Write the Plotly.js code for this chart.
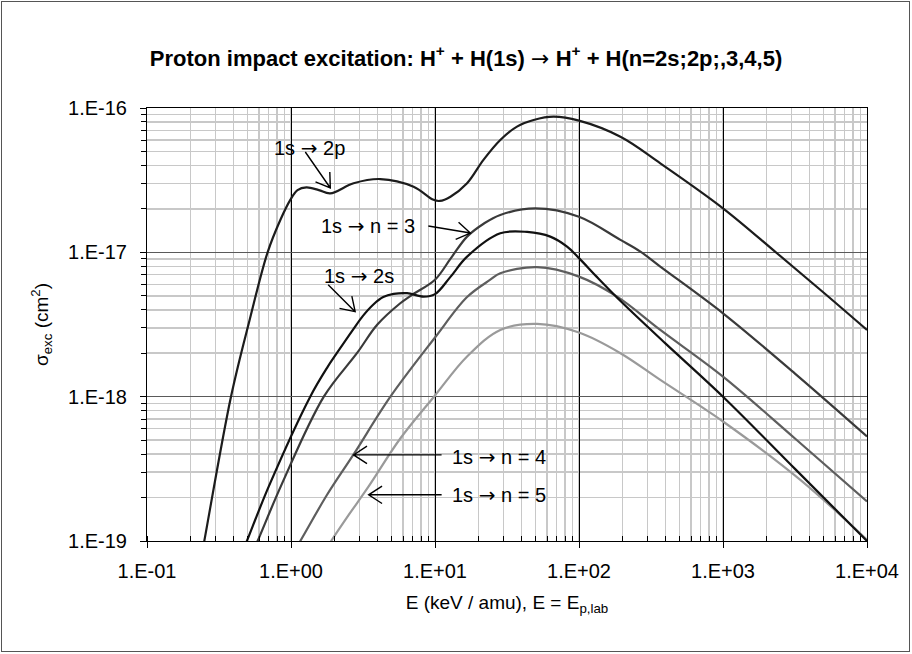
<!DOCTYPE html>
<html>
<head>
<meta charset="utf-8">
<script src="https://cdn.plot.ly/plotly-3.0.1.min.js"></script>
<style>
html,body{margin:0;padding:0;background:#fff;}
#wrap{position:relative;width:912px;height:654px;}
#frame{position:absolute;left:1px;top:1px;width:909px;height:651px;border:1px solid #555;box-sizing:border-box;pointer-events:none;}
</style>
</head>
<body>
<div id="wrap"><div id="chart" style="width:912px;height:654px;"></div><div id="frame"></div></div>
<script>
// Energy E (keV/amu) and cross sections sigma (cm^2)
const E_2p = [0.234, 0.250, 0.383, 0.516, 0.688, 0.843, 0.989, 1.11, 1.28, 1.56, 1.87, 2.72, 4.17, 7.10, 9.77, 10.8, 12.8, 16.7, 21.7, 28.4, 37.1, 48.4, 66.7, 100, 194, 367, 1000, 2370, 5010, 10000];
const S_2p = [7.0e-20, 1.0e-19, 1.0e-18, 3.40e-18, 1.0e-17, 1.675e-17, 2.31e-17, 2.70e-17, 2.82e-17, 2.70e-17, 2.56e-17, 3.01e-17, 3.22e-17, 2.85e-17, 2.31e-17, 2.27e-17, 2.43e-17, 3.01e-17, 4.37e-17, 6.00e-17, 7.43e-17, 8.26e-17, 8.71e-17, 8.17e-17, 6.32e-17, 4.14e-17, 2.02e-17, 9.86e-18, 5.25e-18, 2.90e-18];

const E_2s = [0.457, 0.494, 0.700, 1.36, 1.78, 2.08, 2.72, 3.16, 3.75, 4.37, 5.16, 6.40, 8.34, 10.0, 12.8, 16.7, 28.4, 43.6, 63.2, 82.6, 100, 133, 200, 398, 1000, 3162, 10000];
const S_2s = [8.3e-20, 1.0e-19, 2.38e-19, 1.0e-18, 1.585e-18, 2.0e-18, 2.95e-18, 3.63e-18, 4.37e-18, 4.90e-18, 5.15e-18, 5.21e-18, 4.93e-18, 5.13e-18, 6.76e-18, 9.33e-18, 1.355e-17, 1.384e-17, 1.285e-17, 1.096e-17, 9.12e-18, 6.76e-18, 4.47e-18, 2.34e-18, 1.0e-18, 3.16e-19, 1.0e-19];

const E_n3 = [0.537, 0.586, 0.851, 1.69, 2.87, 3.98, 5.74, 6.92, 10.0, 12.9, 16.7, 21.9, 28.4, 49.8, 100, 194, 267, 367, 1000, 3162, 10000];
const S_n3 = [8.3e-20, 1.0e-19, 2.40e-19, 1.0e-18, 2.0e-18, 3.16e-18, 4.44e-18, 5.07e-18, 6.46e-18, 9.12e-18, 1.285e-17, 1.585e-17, 1.816e-17, 2.018e-17, 1.766e-17, 1.219e-17, 1.012e-17, 7.96e-18, 3.78e-18, 1.445e-18, 5.30e-19];

const E_n4 = [1.05, 1.16, 1.78, 2.72, 4.90, 10.0, 16.7, 24.2, 28.4, 51.1, 100, 184, 367, 1000, 3162, 10000];
const S_n4 = [8.5e-20, 1.0e-19, 2.09e-19, 3.98e-19, 1.0e-18, 2.57e-18, 4.90e-18, 6.46e-18, 7.16e-18, 7.89e-18, 6.79e-18, 4.93e-18, 2.90e-18, 1.377e-18, 5.13e-19, 1.88e-19];

const E_n5 = [1.74, 1.90, 2.51, 3.47, 5.74, 10.0, 16.7, 28.4, 51.1, 100, 194, 367, 1000, 3444, 10000];
const S_n5 = [8.7e-20, 1.0e-19, 1.51e-19, 2.40e-19, 5.13e-19, 1.02e-18, 1.897e-18, 2.90e-18, 3.19e-18, 2.78e-18, 2.0e-18, 1.306e-18, 6.73e-19, 2.65e-19, 1.02e-19];

const xTickVals = [0.1, 1, 10, 100, 1000, 10000];
const xTickText = ['1.E-01', '1.E+00', '1.E+01', '1.E+02', '1.E+03', '1.E+04'];
const yTickVals = [1e-19, 1e-18, 1e-17, 1e-16];
const yTickText = ['1.E-19', '1.E-18', '1.E-17', '1.E-16'];

const ARW = '<span style="font-family:\'DejaVu Sans\'">\u2192</span>';
const labels = ['1s ' + ARW + ' 2p', '1s ' + ARW + ' n = 3', '1s ' + ARW + ' 2s', '1s ' + ARW + ' n = 4', '1s ' + ARW + ' n = 5'];
// label centres (E, sigma)
const labelE = [1.343, 3.44, 2.98, 28.0, 28.0];
const labelS = [5.28e-17, 1.52e-17, 6.87e-18, 3.83e-19, 2.09e-19];
// arrow tips (E, sigma) and tail offsets in screen pixels
const tipE = [1.875, 17.6, 2.79, 2.72, 3.46];
const tipS = [2.79e-17, 1.36e-17, 3.88e-18, 3.95e-19, 2.09e-19];
const tailDX = [-25, -42, -27, 88, 73];
const tailDY = [-36, -7, -27, 0, 0];

const FONT = '"Liberation Sans", Arial, sans-serif';

function tr(x, y, color) {
  return {x: x, y: y, type: 'scatter', mode: 'lines',
    line: {color: color, width: 2.2, shape: 'spline', smoothing: 1.0},
    hoverinfo: 'skip', cliponaxis: true};
}
const data = [
  tr(E_n5, S_n5, '#9a9a9a'),
  tr(E_n4, S_n4, '#5e5e5e'),
  tr(E_n3, S_n3, '#3a3a3a'),
  tr(E_2s, S_2s, '#111111'),
  tr(E_2p, S_2p, '#1c1c1c')
];

const annotations = labels.map((t, i) => ({
  text: t, x: Math.log10(labelE[i]), y: Math.log10(labelS[i]), xref: 'x', yref: 'y', showarrow: false,
  xanchor: 'center', yanchor: 'middle', font: {family: FONT, size: 20, color: '#000'}
}));

function arrowShape(E, S, dx, dy) {
  const len = Math.hypot(dx, dy), ux = dx / len, uy = dy / len;
  const A = 16, th = 33 * Math.PI / 180, c = Math.cos(th), s = Math.sin(th);
  const a1x = A * (ux * c - uy * s), a1y = A * (ux * s + uy * c);
  const a2x = A * (ux * c + uy * s), a2y = A * (-ux * s + uy * c);
  const f = v => v.toFixed(2);
  const p = 'M' + f(dx) + ',' + f(-dy) + 'L0,0M' + f(a1x) + ',' + f(-a1y) + 'L0,0L' + f(a2x) + ',' + f(-a2y);
  return {type: 'path', xref: 'x', yref: 'y', xsizemode: 'pixel', ysizemode: 'pixel',
    xanchor: E, yanchor: S, path: p, line: {color: '#000', width: 1.4}, layer: 'above'};
}
const shapes = tipE.map((e, i) => arrowShape(e, tipS[i], tailDX[i], tailDY[i]));

const layout = {
  width: 912, height: 654,
  margin: {l: 147, r: 45, t: 108, b: 113, pad: 0},
  paper_bgcolor: '#fff', plot_bgcolor: '#fff',
  font: {family: FONT, color: '#000', size: 18},
  showlegend: false,
  title: {text: '<b>Proton impact excitation: H<sup>+</sup> + H(1s)</b> ' + ARW + ' <b>H<sup>+</sup> + H(n=2s;2p;,3,4,5)</b>',
    x: 0.511, xref: 'container', xanchor: 'center', y: 1 - 58 / 654, yref: 'container', yanchor: 'middle',
    font: {family: FONT, size: 22, color: '#000'}},
  xaxis: {type: 'log', range: [-1, 4], tickmode: 'array', tickvals: xTickVals, ticktext: xTickText,
    ticks: 'outside', ticklen: 6, tickcolor: '#000', tickwidth: 1, ticklabelstandoff: 6,
    showline: true, mirror: true, linecolor: '#000', linewidth: 1,
    showgrid: true, gridcolor: '#000', gridwidth: 1, zeroline: false,
    tickfont: {family: FONT, size: 20, color: '#000'},
    title: {text: 'E (keV / amu), E = E<sub>p,lab</sub>', font: {family: FONT, size: 19, color: '#000'}, standoff: 14},
    minor: {tickmode: 'linear', dtick: 'D1', showgrid: true, gridcolor: '#c8c8c8', gridwidth: 1.5,
      ticks: 'inside', ticklen: 5, tickcolor: '#000', tickwidth: 1},
    fixedrange: true},
  yaxis: {type: 'log', range: [-19, -16], tickmode: 'array', tickvals: yTickVals, ticktext: yTickText,
    ticks: 'outside', ticklen: 6, tickcolor: '#000', tickwidth: 1, ticklabelstandoff: 9,
    showline: true, mirror: true, linecolor: '#000', linewidth: 1,
    showgrid: true, gridcolor: '#5a5a5a', gridwidth: 1.4, zeroline: false,
    tickfont: {family: FONT, size: 20, color: '#000'},
    title: {text: '\u03c3<sub>exc</sub> (cm<sup>2</sup>)', font: {family: FONT, size: 19, color: '#000'}, standoff: 14},
    minor: {tickmode: 'linear', dtick: 'D1', showgrid: true, gridcolor: '#c8c8c8', gridwidth: 1.5,
      ticks: 'outside', ticklen: 5, tickcolor: '#000', tickwidth: 1},
    fixedrange: true},
  annotations: annotations,
  shapes: shapes
};

Plotly.newPlot('chart', data, layout, {staticPlot: true, displayModeBar: false});
</script>
</body>
</html>
